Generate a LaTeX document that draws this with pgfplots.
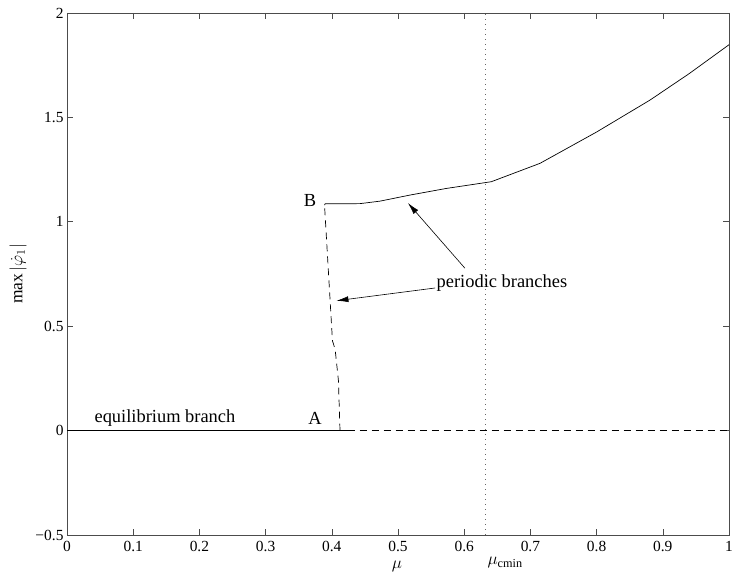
\documentclass[border=0pt]{standalone}
\usepackage{fontspec}
\setmainfont{Liberation Serif}
\usepackage{pgfplots}
\pgfplotsset{compat=1.18}
\usetikzlibrary{arrows.meta}
\begin{document}
\begin{tikzpicture}
\begin{axis}[
  at={(0,0)}, anchor=south west,
  width=662bp, height=522bp, scale only axis,
  xmin=0, xmax=1, ymin=-0.5, ymax=2,
  xtick={0,0.1,...,1.0},
  xticklabels={0,0.1,0.2,0.3,0.4,0.5,0.6,0.7,0.8,0.9,1},
  ytick={-0.5,0,0.5,1,1.5,2},
  yticklabels={−0.5,0,0.5,1,1.5,2},
  tick align=inside, xtick pos=both, ytick pos=both, ticklabel pos=left,
  major tick length=6bp,
  every tick/.style={black!70, line width=0.6pt},
  axis line style={black!70, line width=0.6pt},
  tick label style={font=\fontsize{15.5}{18}\selectfont},
  xticklabel style={yshift=-2.5bp},
  /pgf/number format/assume math mode=true,
  ylabel={\fontsize{17.5}{20}\selectfont $\max|\dot{\varphi}_1|$},
  ylabel style={at={(axis description cs:-0.074,0.5)}, anchor=center},
  clip=false,
]
% equilibrium branch, stable
\addplot[black, line width=0.7pt] coordinates {(0,0) (0.424,0)};
% equilibrium branch, unstable
\addplot[black, line width=0.7pt, dash pattern=on 7bp off 5bp] coordinates {(0.424,0) (1,0)};
% periodic branch, unstable
\addplot[black, line width=0.7pt, dash pattern=on 7bp off 5bp] coordinates {
 (0.4124,0) (0.41,0.24) (0.405,0.39) (0.401,0.43) (0.389,1.08)};
% periodic branch, stable
\addplot[black, line width=0.7pt] coordinates {
 (0.389,1.08) (0.39,1.086) (0.4426,1.087) (0.473,1.099) (0.518,1.128)
 (0.5735,1.160) (0.641,1.192) (0.7145,1.28) (0.8,1.43) (0.8807,1.583)
 (0.94,1.71) (1,1.848)};
% mu_cmin line
\addplot[black!60, line width=0.8pt, dash pattern=on 0.8bp off 4.2bp] coordinates {(0.632,-0.5) (0.632,2)};
\node[font=\fontsize{18.5}{20}\selectfont] at (axis cs:0.367,1.10) {B};
\node[font=\fontsize{18.5}{20}\selectfont] at (axis cs:0.3746,0.06) {A};
\node[font=\fontsize{18.5}{20}\selectfont] at (axis cs:0.148,0.06) {equilibrium branch};
\node[font=\fontsize{18.5}{20}\selectfont] at (axis cs:0.657,0.707) {periodic branches};
\draw[black, line width=0.6pt, -{Latex[length=12bp,width=6bp]}] (axis cs:0.601,0.778) -- (axis cs:0.515,1.09);
\draw[black, line width=0.6pt, -{Latex[length=12bp,width=6bp]}] (axis cs:0.556,0.683) -- (axis cs:0.407,0.622);
\node[anchor=base, font=\fontsize{17.5}{20}\selectfont] at (axis cs:0.4985,-0.66) {$\mu$};
\node[anchor=base west, inner sep=0pt, font=\fontsize{17.5}{20}\selectfont] at (axis cs:0.635,-0.643) {$\mu_{\mathrm{cmin}}$};
\end{axis}
\pgfresetboundingbox
\path[use as bounding box] (-67bp,-43bp) rectangle (665bp,535bp);
\end{tikzpicture}
\end{document}
